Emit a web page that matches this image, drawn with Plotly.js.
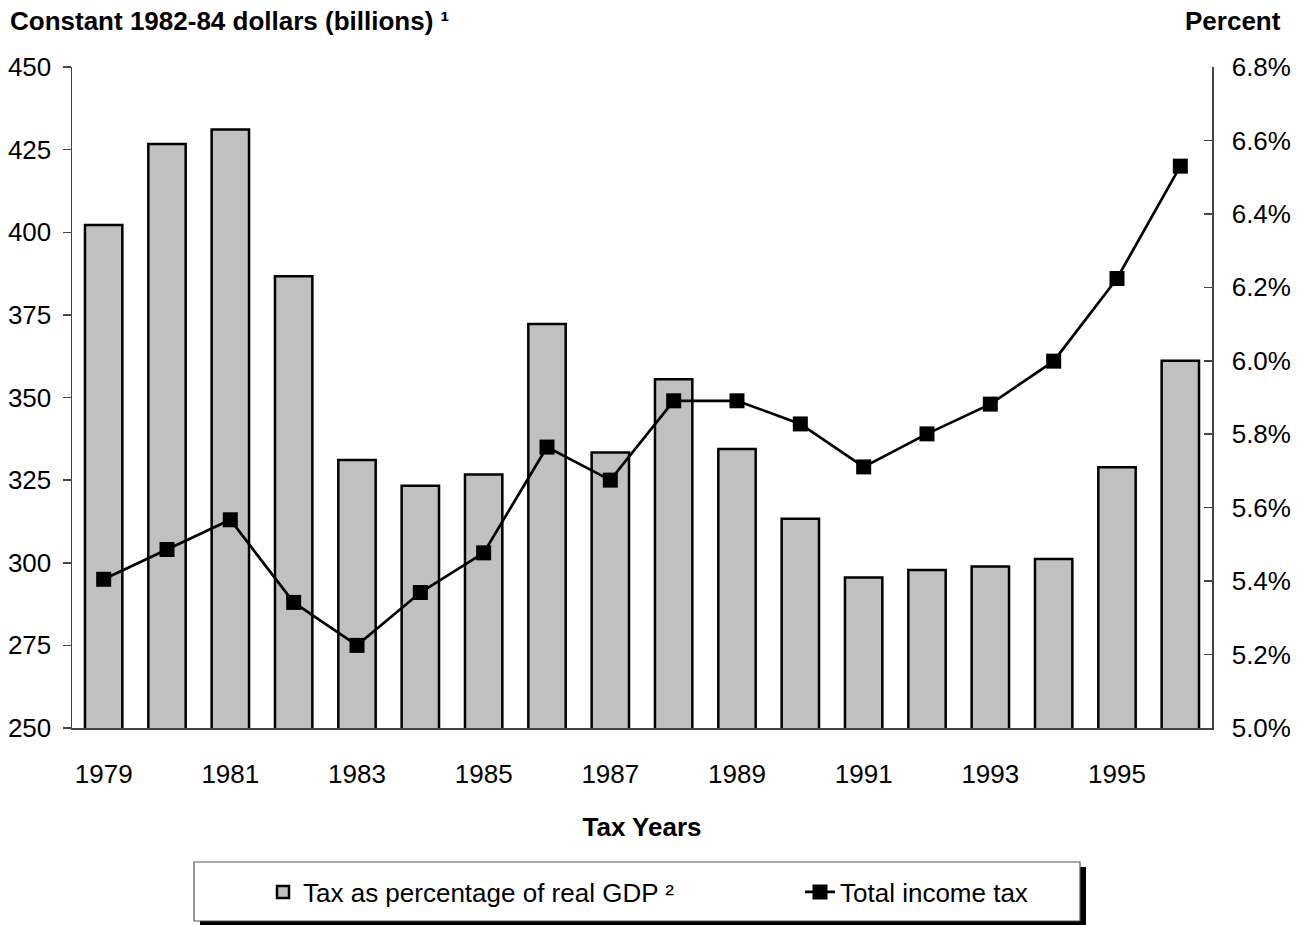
<!DOCTYPE html>
<html>
<head>
<meta charset="utf-8">
<script src="https://cdn.plot.ly/plotly-3.0.1.min.js"></script>
<style>html,body{margin:0;padding:0;background:#fff;}#chart{width:1305px;height:925px;}</style>
</head>
<body>
<div id="chart"></div>
<script>
// ---- data ----
const years = [1979,1980,1981,1982,1983,1984,1985,1986,1987,1988,1989,1990,1991,1992,1993,1994,1995,1996];
const taxPctGDP = [6.37,6.59,6.63,6.23,5.73,5.66,5.69,6.10,5.75,5.95,5.76,5.57,5.41,5.43,5.44,5.46,5.71,6.00];
const incomeTax = [295,304,313,288,275,291,303,335,325,349,349,342,329,339,348,361,386,420];
const xTickVals = [1979,1981,1983,1985,1987,1989,1991,1993,1995];
const leftTickVals = [250,275,300,325,350,375,400,425,450];
const rightTickVals = [5.0,5.2,5.4,5.6,5.8,6.0,6.2,6.4,6.6,6.8];

const FONT = '"Liberation Sans", Arial, Helvetica, sans-serif';
const W = 1305, H = 925;
const M = {l:72, r:93, t:67, b:197, autoexpand: false};
const PW = W - M.l - M.r, PH = H - M.t - M.b;
const px = x => (x - M.l) / PW;
const py = y => (H - M.b - y) / PH;

const traces = [
  {
    type: 'bar', name: 'Tax as percentage of real GDP ²',
    x: years, y: taxPctGDP, yaxis: 'y', width: 0.59,
    marker: {color: '#c0c0c0', line: {color: '#000', width: 2.5}},
    legend: 'legend'
  },
  {
    type: 'scatter', mode: 'lines+markers', name: 'Total income tax',
    x: years, y: incomeTax, yaxis: 'y2',
    line: {color: '#000', width: 2.7},
    marker: {symbol: 'square', size: 15, color: '#000'},
    cliponaxis: false,
    legend: 'legend2'
  }
];

const legendCommon = {
  orientation: 'h', xanchor: 'left', yanchor: 'middle',
  bgcolor: 'rgba(0,0,0,0)', borderwidth: 0,
  font: {size: 26, family: FONT, color: '#000'}
};

const layout = {
  width: W, height: H,
  margin: M,
  paper_bgcolor: '#fff', plot_bgcolor: '#fff',
  font: {family: FONT, size: 26, color: '#000'},
  showlegend: true,
  xaxis: {
    range: [1978.5, 1996.5], automargin: false,
    tickvals: xTickVals, ticktext: xTickVals.map(String),
    ticks: '', showgrid: false, zeroline: false,
    showline: true, linecolor: '#444', linewidth: 1.5,
    ticklabelstandoff: 22,
    tickfont: {size: 26},
    title: {text: '<b>Tax Years</b>', font: {size: 26}, standoff: 30}
  },
  yaxis: {
    side: 'right', range: [5.0, 6.8], automargin: false,
    tickvals: rightTickVals, ticktext: rightTickVals.map(v => v.toFixed(1) + '%'),
    ticks: 'inside', ticklen: 8, tickcolor: '#444', tickwidth: 1.5,
    showline: true, linecolor: '#444', linewidth: 1.5,
    showgrid: false, zeroline: false,
    ticklabelstandoff: 13,
    tickfont: {size: 26}
  },
  yaxis2: {
    overlaying: 'y', side: 'left', range: [250, 450], automargin: false,
    tickvals: leftTickVals,
    ticks: 'outside', ticklen: 8, tickcolor: '#444', tickwidth: 1.5,
    showline: true, linecolor: '#444', linewidth: 1.5,
    showgrid: false, zeroline: false,
    ticklabelstandoff: 6,
    tickfont: {size: 26}
  },
  legend: Object.assign({x: px(263), y: py(892)}, legendCommon),
  legend2: Object.assign({x: px(800), y: py(892)}, legendCommon),
  shapes: [
    {type: 'rect', xref: 'paper', yref: 'paper', x0: px(200), x1: px(1086), y0: py(925), y1: py(867),
     fillcolor: '#000', line: {width: 0}, layer: 'above'},
    {type: 'rect', xref: 'paper', yref: 'paper', x0: px(194), x1: px(1080), y0: py(921), y1: py(862),
     fillcolor: '#fff', line: {color: '#555', width: 1.2}, layer: 'above'}
  ],
  annotations: [
    {text: '<b>Constant 1982-84 dollars (billions) ¹</b>', xref: 'paper', yref: 'paper',
     x: px(8), xanchor: 'left', y: py(21), yanchor: 'middle', showarrow: false, font: {size: 26}},
    {text: '<b>Percent</b>', xref: 'paper', yref: 'paper',
     x: px(1283), xanchor: 'right', y: py(21), yanchor: 'middle', showarrow: false, font: {size: 26}}
  ]
};

Plotly.newPlot('chart', traces, layout, {displayModeBar: false, staticPlot: true});
</script>
</body>
</html>
